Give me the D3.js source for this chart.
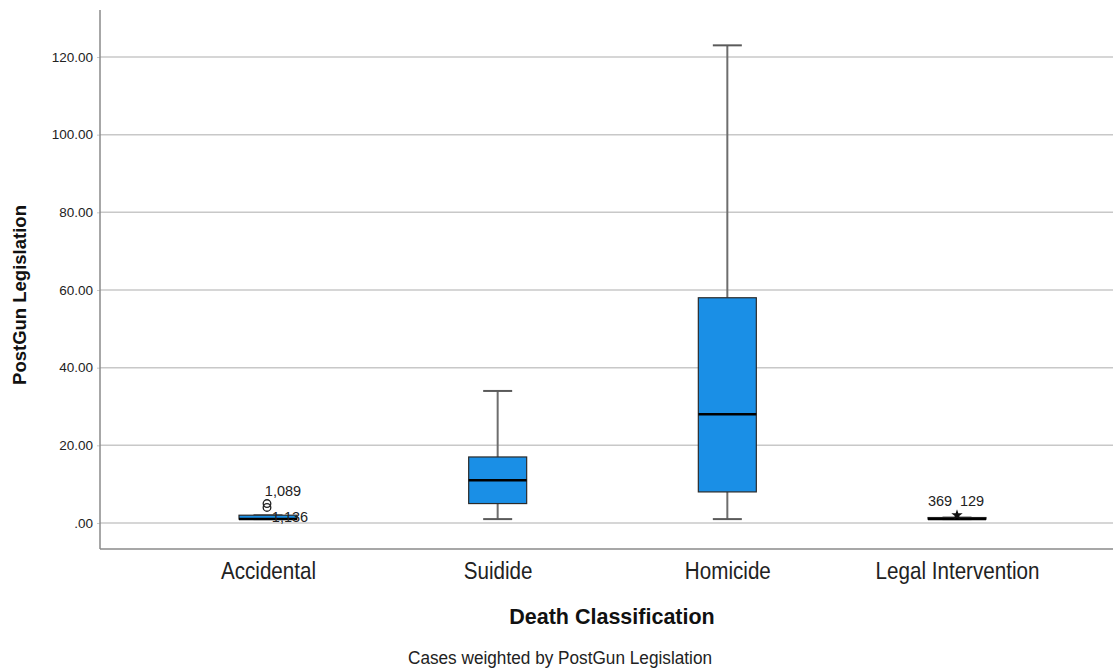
<!DOCTYPE html>
<html>
<head>
<meta charset="utf-8">
<script src="https://cdn.jsdelivr.net/npm/d3@7"></script>
<style>
  body { margin: 0; background: #fff; }
  svg { display: block; font-family: "Liberation Sans", Arial, sans-serif; }
</style>
</head>
<body>
<svg id="chart" width="1113" height="669"></svg>
<script>
// Box-plot summary per death classification
const categories = ["Accidental", "Suidide", "Homicide", "Legal Intervention"];
const whiskerLow  = [1, 1, 1, 1];
const boxLow      = [1, 5, 8, 1];
const medians     = [1, 11, 28, 1];
const boxHigh     = [2, 17, 58, 1.4];
const whiskerHigh = [2, 34, 123, 1.4];

// Outlying cases: category index, value, symbol
const outlierCat   = [0, 0, 3];
const outlierValue = [5, 4, 2];
const outlierShape = ["circle", "circle", "star"];

// Case labels shown beside outliers: category index, value position, text, x shift
const caseLabelCat   = [0, 0, 3, 3];
const caseLabelValue = [7, 0.2, 4.4, 4.4];
const caseLabelText  = ["1,089", "1,136", "369", "129"];
const caseLabelShift = [15, 22, -17, 15];

const yTicks = [0, 20, 40, 60, 80, 100, 120];

const svg = d3.select("#chart");
const plotLeft = 100, plotRight = 1113, plotTop = 10, plotBottom = 549;
const narrow = 0.86; // horizontal squeeze for the condensed category face

const y = d3.scaleLinear().domain([-6.7, 132.1]).range([plotBottom, plotTop]);
const x = d3.scalePoint().domain(categories).range([268, 957]);
const boxW = 58, capW = 29;

// gridlines
svg.append("g").selectAll("line").data(yTicks).join("line")
  .attr("x1", plotLeft).attr("x2", plotRight)
  .attr("y1", d => y(d)).attr("y2", d => y(d))
  .attr("stroke", "#c8c8c8").attr("stroke-width", 1.5);

// y axis
const yAxis = svg.append("g").attr("transform", `translate(${plotLeft},0)`)
  .call(d3.axisLeft(y).tickValues(yTicks).tickSize(3)
    .tickFormat(d => d === 0 ? ".00" : d3.format(".2f")(d)));
yAxis.select(".domain").remove();
yAxis.selectAll(".tick line").attr("stroke", "#c8c8c8");
yAxis.selectAll(".tick text").attr("font-size", 13.5).attr("fill", "#222").attr("x", -7)
  .attr("font-family", "Liberation Sans, Arial, sans-serif");

// x axis
const xAxis = svg.append("g").attr("transform", `translate(0,${plotBottom})`)
  .call(d3.axisBottom(x).tickSize(0).tickPadding(13));
xAxis.select(".domain").remove();
xAxis.selectAll(".tick text").attr("font-size", 24).attr("fill", "#222")
  .attr("transform", `scale(${narrow},1)`)
  .attr("font-family", "Liberation Sans, Arial, sans-serif");

// axis frame lines
svg.append("line").attr("x1", plotLeft).attr("x2", plotLeft).attr("y1", plotTop).attr("y2", plotBottom)
  .attr("stroke", "#8a8a8a").attr("stroke-width", 1.5);
svg.append("line").attr("x1", plotLeft).attr("x2", plotRight).attr("y1", plotBottom).attr("y2", plotBottom)
  .attr("stroke", "#8a8a8a").attr("stroke-width", 1.5);

// boxes
const data = categories.map((c, i) => ({
  c, wl: whiskerLow[i], q1: boxLow[i], med: medians[i], q3: boxHigh[i], wh: whiskerHigh[i]
}));
const g = svg.append("g");
data.forEach(d => {
  const cx = x(d.c);
  // whisker stems
  g.append("line").attr("x1", cx).attr("x2", cx).attr("y1", y(d.q3)).attr("y2", y(d.wh))
    .attr("stroke", "#6e6e6e").attr("stroke-width", 2);
  g.append("line").attr("x1", cx).attr("x2", cx).attr("y1", y(d.q1)).attr("y2", y(d.wl))
    .attr("stroke", "#6e6e6e").attr("stroke-width", 2);
  // caps
  [d.wl, d.wh].forEach(v => {
    g.append("line").attr("x1", cx - capW / 2).attr("x2", cx + capW / 2)
      .attr("y1", y(v)).attr("y2", y(v))
      .attr("stroke", "#5a5a5a").attr("stroke-width", 2);
  });
  // box
  g.append("rect").attr("x", cx - boxW / 2).attr("width", boxW)
    .attr("y", y(d.q3)).attr("height", Math.max(y(d.q1) - y(d.q3), 1))
    .attr("fill", "#1a8fe6").attr("stroke", "#2b2b2b").attr("stroke-width", 1.2);
  // median
  g.append("line").attr("x1", cx - boxW / 2).attr("x2", cx + boxW / 2)
    .attr("y1", y(d.med)).attr("y2", y(d.med))
    .attr("stroke", "#000").attr("stroke-width", 2.5);
});

// outliers
outlierCat.forEach((ci, i) => {
  const cx = x(categories[ci]) - (outlierShape[i] === "circle" ? 1 : 0);
  const cy = y(outlierValue[i]);
  if (outlierShape[i] === "circle") {
    g.append("circle").attr("cx", cx).attr("cy", cy).attr("r", 3.8)
      .attr("fill", "none").attr("stroke", "#222").attr("stroke-width", 1.3);
  } else {
    g.append("path").attr("transform", `translate(${cx},${cy})`)
      .attr("d", d3.symbol(d3.symbolStar, 40)()).attr("fill", "#111");
  }
});

// case labels
caseLabelCat.forEach((ci, i) => {
  svg.append("text").attr("x", x(categories[ci]) + caseLabelShift[i])
    .attr("y", y(caseLabelValue[i])).attr("text-anchor", "middle")
    .attr("font-size", 14.5).attr("fill", "#222").text(caseLabelText[i]);
});

// axis titles
svg.append("text").attr("x", 612).attr("y", 624).attr("text-anchor", "middle")
  .attr("font-size", 21.5).attr("font-weight", "bold").attr("fill", "#111")
  .text("Death Classification");
svg.append("text").attr("transform", "translate(26,295) rotate(-90)")
  .attr("text-anchor", "middle").attr("font-size", 18.5).attr("font-weight", "bold")
  .attr("fill", "#111").text("PostGun Legislation");

// footnote
svg.append("text").attr("transform", "translate(560,664) scale(0.93,1)")
  .attr("text-anchor", "middle")
  .attr("font-size", 18.5).attr("fill", "#222").text("Cases weighted by PostGun Legislation");
</script>
</body>
</html>
